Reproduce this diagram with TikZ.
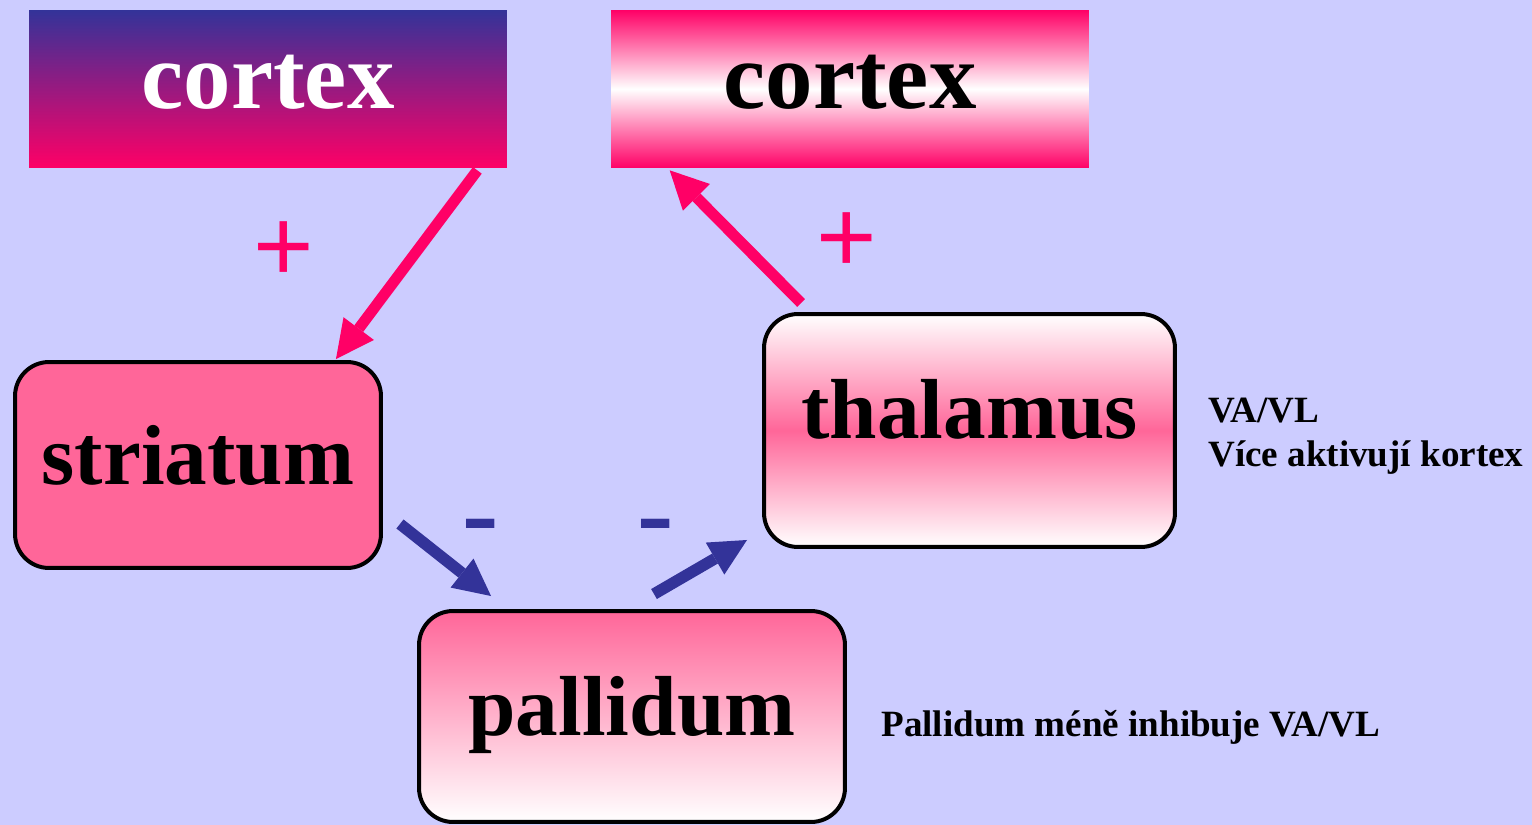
\documentclass[tikz,border=0pt]{standalone}
\usepackage{fontspec}
\setmainfont{Liberation Serif}
\newfontfamily\plusfont{Liberation Sans}
\usetikzlibrary{arrows.meta,calc}
\definecolor{bg}{HTML}{CCCCFF}
\definecolor{hotpink}{HTML}{FF0066}
\definecolor{lightpink}{HTML}{FF6699}
\definecolor{navy}{HTML}{333399}
\tikzset{
  cortexbox/.style={rectangle, inner sep=0pt, minimum width=9.56cm, minimum height=3.16cm,
    font=\fontsize{54}{60}\selectfont\bfseries, text height=0.78cm, text depth=0pt},
  brainbox/.style={rectangle, rounded corners=0.68cm, draw=black, line width=0.08cm,
    inner sep=0pt, font=\fontsize{48.5}{58}\selectfont\bfseries, text depth=0pt},
  exc/.style={draw=hotpink, line width=0.22cm, -{Triangle[length=0.76cm,width=0.76cm,line width=0pt]}},
  inh/.style={draw=navy, line width=0.23cm, -{Triangle[length=0.74cm,width=0.74cm,line width=0pt]}},
  plussign/.style={text=hotpink, font=\plusfont\fontsize{59}{60}\selectfont, inner sep=0pt},
  minussign/.style={text=navy, font=\fontsize{62}{64}\selectfont\bfseries, inner sep=0pt, anchor=base},
  sidetext/.style={font=\fontsize{21.1}{25}\selectfont\bfseries, inner sep=0pt, anchor=base west}
}
\begin{document}
\begin{tikzpicture}[x=0.02cm,y=-0.02cm]
\useasboundingbox (0,0) rectangle (1532,825);
\fill[bg] (0,0) rectangle (1532,825);

\node[cortexbox, top color=navy, bottom color=hotpink, text=white] (c1) at (268,89) {cortex};
\node[cortexbox, top color=hotpink, bottom color=hotpink, middle color=white, text=black] (c2) at (850,89) {cortex};

\node[brainbox, fill=lightpink, minimum width=7.32cm, minimum height=4.12cm, text height=0.76cm] (str) at (198,465) {striatum};
\node[brainbox, top color=white, bottom color=white, middle color=lightpink, minimum width=8.22cm, minimum height=4.66cm, text height=0.3cm] (thal) at (969.5,430.5) {thalamus};
\node[brainbox, top color=lightpink, bottom color=white, minimum width=8.52cm, minimum height=4.22cm, text height=0.76cm] (pal) at (632,716.5) {pallidum};

\draw[exc] ($(c1.south east)+(-30,2)$) -- ($(str.north east)+(-47,-1)$);
\draw[exc] ($(thal.north west)+(39,-9)$) -- ($(c2.south west)+(59,2)$);
\draw[inh] ($(str.south east)+(17,-46)$) -- ($(pal.north west)+(74,-13)$);
\draw[inh] ($(pal.north)+(22,-15)$) -- ($(thal.south west)+(-15,-9)$);

\node[plussign] (p1) at (284,252) {+};
\node[plussign] (p2) at (847,243) {+};
\node[minussign] (m1) at (481,549) {-};
\node[minussign] (m2) at (656,549) {-};

\node[sidetext] (va) at (1208,422) {VA/VL};
\node[sidetext] (vice) at (1208,466) {Více aktivují kortex};
\node[sidetext] (palt) at (881,736) {Pallidum méně inhibuje VA/VL};
\end{tikzpicture}
\end{document}
